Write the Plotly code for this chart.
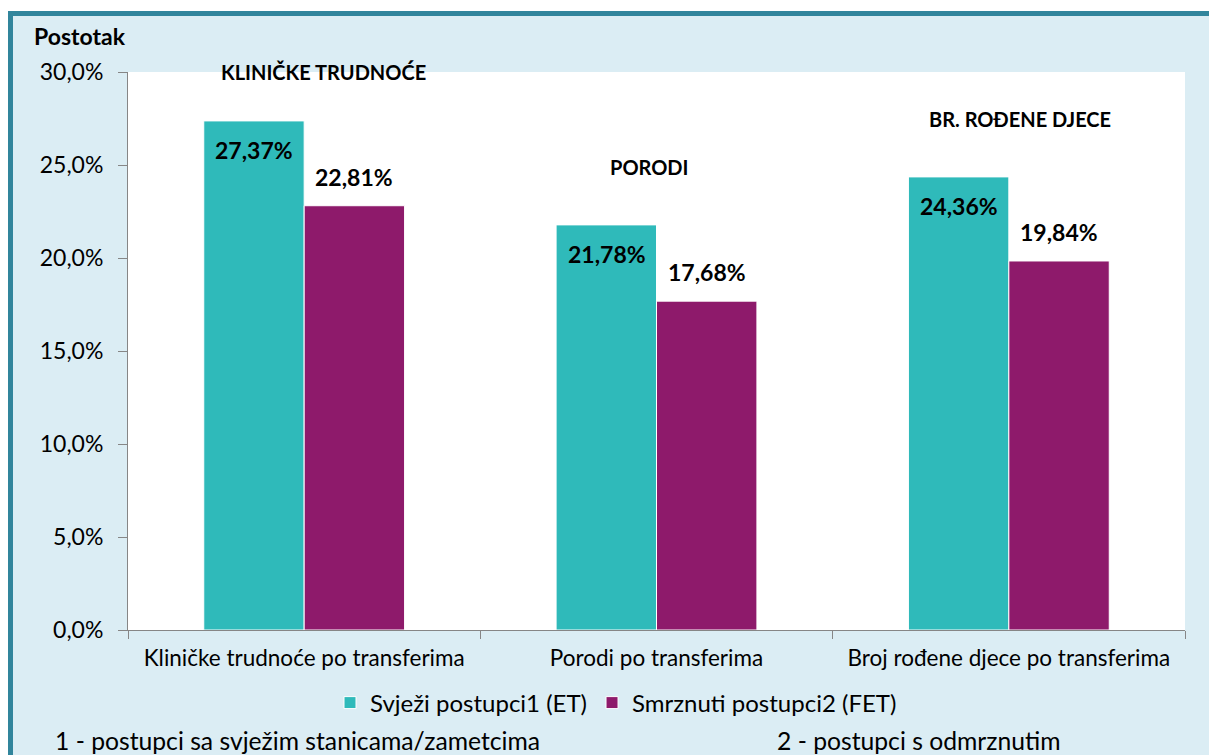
import plotly.graph_objects as go

categories = ["Kliničke trudnoće po transferima", "Porodi po transferima", "Broj rođene djece po transferima"]
series_names = ["Svježi postupci1 (ET)", "Smrznuti postupci2 (FET)"]
fresh_values = [27.37, 21.78, 24.36]
frozen_values = [22.81, 17.68, 19.84]
group_titles = ["KLINIČKE TRUDNOĆE", "PORODI", "BR. ROĐENE DJECE"]
group_title_y = [30.0, 24.9, 27.5]
y_ticks = [0, 5, 10, 15, 20, 25, 30]
y_tick_labels = ["0,0%", "5,0%", "10,0%", "15,0%", "20,0%", "25,0%", "30,0%"]

TEAL = "#2FBABA"
MAGENTA = "#8E1A6B"
FONT = "Lato"

W, H = 1209, 755
L, R, T, B = 128, 24, 72, 125
PW, PH = W - L - R, H - T - B

def px_x(p):
    return (p - L) / PW

def px_y(p):
    return (H - B - p) / PH

def fmt(v):
    return f"{v:.2f}%".replace(".", ",")

fig = go.Figure()
fig.add_trace(go.Bar(
    x=categories, y=fresh_values, name=series_names[0],
    marker=dict(color=TEAL, line=dict(color="white", width=1)),
))
fig.add_trace(go.Bar(
    x=categories, y=frozen_values, name=series_names[1],
    marker=dict(color=MAGENTA, line=dict(color="white", width=1)),
))

shapes = [
    dict(type="rect", xref="paper", yref="paper", x0=px_x(0), x1=px_x(W), y0=px_y(0), y1=px_y(11),
         fillcolor="white", line_width=0, layer="below"),
    dict(type="rect", xref="paper", yref="paper", x0=px_x(0), x1=px_x(8), y0=px_y(0), y1=px_y(H),
         fillcolor="white", line_width=0, layer="below"),
    dict(type="rect", xref="paper", yref="paper", x0=px_x(8), x1=px_x(W), y0=px_y(11), y1=px_y(16),
         fillcolor="#31859C", line_width=0, layer="below"),
    dict(type="rect", xref="paper", yref="paper", x0=px_x(8), x1=px_x(13), y0=px_y(11), y1=px_y(H),
         fillcolor="#31859C", line_width=0, layer="below"),
]

annotations = []
label_font = dict(family=FONT, size=23, color="black", weight="bold")
for i, c in enumerate(categories):
    annotations.append(dict(x=c, y=fresh_values[i], xref="x", yref="y", text=fmt(fresh_values[i]),
                            showarrow=False, xshift=-50, yshift=-29, yanchor="middle", font=label_font))
    annotations.append(dict(x=c, y=frozen_values[i], xref="x", yref="y", text=fmt(frozen_values[i]),
                            showarrow=False, xshift=50, yshift=29, yanchor="middle", font=label_font))

xshifts = [19, -7, 11]
for i, (t, yv) in enumerate(zip(group_titles, group_title_y)):
    annotations.append(dict(x=categories[i], y=yv, xref="x", yref="y", text=f"<b>{t}</b>",
                            showarrow=False, xshift=xshifts[i], yanchor="middle",
                            font=dict(family=FONT, size=20, color="black")))
annotations += [
    dict(x=px_x(32), y=px_y(36), xref="paper", yref="paper", text="<b>Postotak</b>", showarrow=False,
         xanchor="left", yanchor="middle", font=dict(family=FONT, size=23, color="black")),
    dict(x=px_x(53), y=px_y(740), xref="paper", yref="paper", text="1 - postupci sa svježim stanicama/zametcima",
         showarrow=False, xanchor="left", yanchor="middle", font=dict(family=FONT, size=24.7, color="black")),
    dict(x=px_x(775), y=px_y(740), xref="paper", yref="paper", text="2 - postupci s odmrznutim",
         showarrow=False, xanchor="left", yanchor="middle", font=dict(family=FONT, size=24.7, color="black")),
]

fig.update_layout(
    width=W, height=H,
    margin=dict(l=L, r=R, t=T, b=B),
    paper_bgcolor="#DBEDF4",
    plot_bgcolor="white",
    barmode="group",
    bargap=0.43,
    bargroupgap=0,
    font=dict(family=FONT, color="black"),
    shapes=shapes,
    annotations=annotations,
    showlegend=True,
    legend=dict(orientation="h", x=px_x(616), xanchor="center", y=px_y(703), yanchor="middle",
                font=dict(family=FONT, size=24, color="black"), bgcolor="rgba(0,0,0,0)",
                itemwidth=30, tracegroupgap=0),
    xaxis=dict(showline=True, linecolor="#868686", linewidth=1, ticks="outside", tickson="boundaries",
               ticklen=8, tickcolor="#868686", tickfont=dict(family=FONT, size=22.5, color="black"),
               ticklabelstandoff=8, showgrid=False),
    yaxis=dict(range=[0, 30], tickvals=y_ticks, ticktext=y_tick_labels,
               showline=True, linecolor="#868686", linewidth=1, ticks="outside", ticklen=9,
               tickcolor="#868686", tickfont=dict(family=FONT, size=23, color="black"),
               ticklabelstandoff=10, showgrid=False, zeroline=False),
)

fig.write_html("out.html", config={"displayModeBar": False},
               post_script="document.body.style.margin='0px';")
